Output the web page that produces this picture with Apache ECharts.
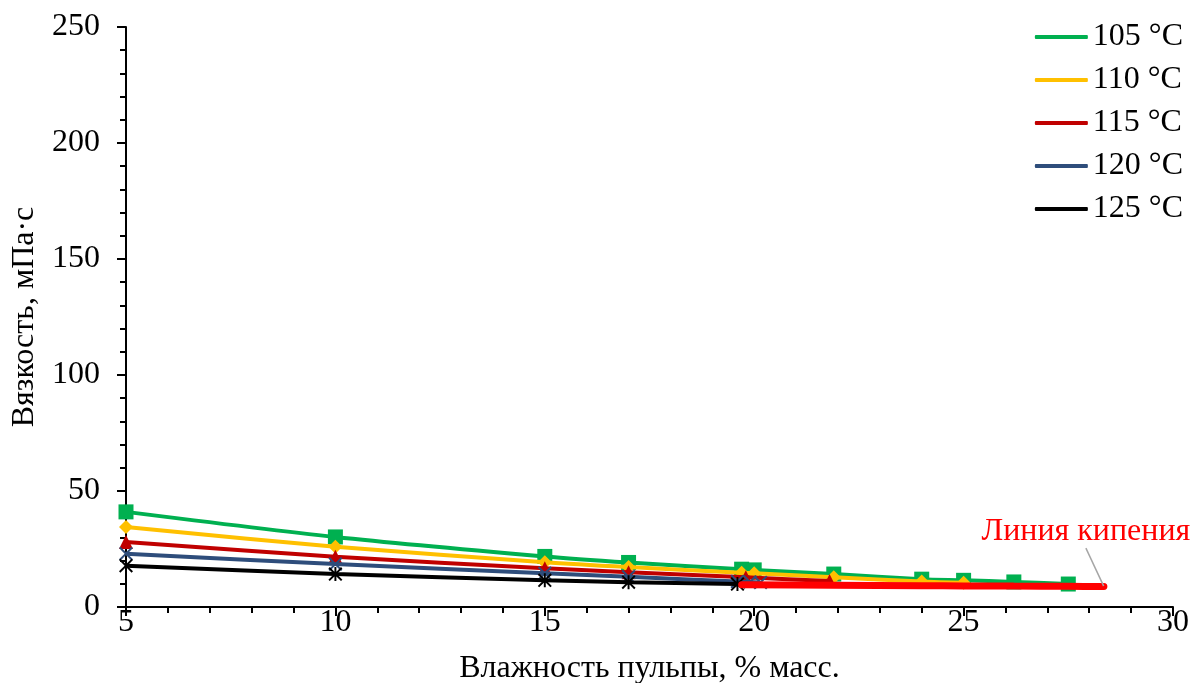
<!DOCTYPE html>
<html>
<head>
<meta charset="utf-8">
<script src="https://cdn.jsdelivr.net/npm/echarts@6/dist/echarts.min.js"></script>
<style>
  html, body { margin: 0; padding: 0; background: #fff; }
  #chart { width: 1195px; height: 683px; }
</style>
</head>
<body>
<div id="chart"></div>
<script>
// данные
var names = ['105 °C', '110 °C', '115 °C', '120 °C', '125 °C'];
var x105 = [5, 10, 15, 17, 19.7, 20, 21.9, 24, 25, 26.2, 27.5];
var y105 = [41, 30.2, 21.8, 19.2, 16.3, 16, 14.2, 12, 11.5, 10.8, 9.9];
var x110 = [5, 10, 15, 17, 19.7, 20, 21.9, 24, 25];
var y110 = [34.5, 26, 19.3, 17.2, 14.8, 14.5, 12.8, 11, 10.4];
var x115 = [5, 10, 15, 17, 19.8, 21.8];
var y115 = [28, 21.7, 16.7, 15, 12.8, 11.2];
var x120 = [5, 10, 15, 17, 19.6, 19.9, 20.15];
var y120 = [23, 18.5, 14.5, 13, 11, 10.8, 10.6];
var x125 = [5, 10, 15, 17, 19.6];
var y125 = [17.8, 14.2, 11.5, 10.7, 9.9];
// линия кипения
var xBoil = [19.7, 21.9, 24, 25, 26.2, 27.5, 28.35];
var yBoil = [9.6, 9.4, 9.2, 9.1, 9.0, 8.9, 8.8];

var colors = ['#00B050', '#FFC000', '#C00000', '#2E4D7B', '#000000'];
var symX = 'path://M1,0L5,4L9,0L10,1L6,5L10,9L9,10L5,6L1,10L0,9L4,5L0,1Z';
var symStar = 'path://M1,0L5,4L9,0L10,1L6,5L10,9L9,10L5,6L1,10L0,9L4,5L0,1Z M4.3,0L5.7,0L5.7,10L4.3,10Z';
var symbols = ['rect', 'diamond', 'triangle', symX, symStar];
var symSizes = [15, 14, 14, 14, 14];

function pairs(xs, ys) {
    var out = [];
    for (var i = 0; i < xs.length; i++) out.push([xs[i], ys[i]]);
    return out;
}

var allX = [x105, x110, x115, x120, x125];
var allY = [y105, y110, y115, y120, y125];

var font = 'Liberation Serif';
var series = [];
for (var i = 0; i < names.length; i++) {
    series.push({
        name: names[i],
        type: 'line',
        smooth: 0.3,
        data: pairs(allX[i], allY[i]),
        symbol: symbols[i],
        symbolSize: symSizes[i],
        showAllSymbol: true,
        itemStyle: { color: colors[i] },
        lineStyle: { color: colors[i], width: 4 },
        z: 2 + i
    });
}

var boilData = pairs(xBoil, yBoil);
var last = boilData.length - 1;
boilData[last] = {
    value: boilData[last],
    label: {
        show: true,
        position: 'top',
        formatter: 'Линия кипения',
        color: '#FF0000',
        fontFamily: font,
        fontSize: 32
    }
};
series.push({
    name: 'Линия кипения',
    type: 'line',
    smooth: 0.3,
    data: boilData,
    symbol: 'circle',
    symbolSize: 1,
    showAllSymbol: true,
    itemStyle: { color: '#FF0000' },
    lineStyle: { color: '#FF0000', width: 7, cap: 'round' },
    labelLayout: function (p) {
        if (p.dataIndex === last) return { dx: -18, dy: -33 };
        return {};
    },
    labelLine: { show: true, lineStyle: { color: '#a6a6a6', width: 1.5 } },
    z: 10
});

var myChart = echarts.init(document.getElementById('chart'));
var option = {
    animation: false,
    textStyle: { fontFamily: font },
    grid: { left: 126, right: 22, top: 27, bottom: 76, outerBoundsMode: 'none', containLabel: false },
    legend: {
        data: names,
        orient: 'vertical',
        right: 7,
        top: 16,
        itemGap: 11,
        itemWidth: 53,
        itemHeight: 4,
        icon: 'roundRect',
        textStyle: { fontFamily: font, fontSize: 32, color: '#000' }
    },
    xAxis: {
        type: 'value',
        min: 5,
        max: 30,
        interval: 5,
        name: 'Влажность пульпы, % масс.',
        nameLocation: 'middle',
        nameGap: 46,
        nameTextStyle: { fontFamily: font, fontSize: 32, color: '#000' },
        axisLine: { show: true, lineStyle: { color: '#000', width: 2 } },
        axisTick: { show: true, length: 9, lineStyle: { color: '#000', width: 2 } },
        minorTick: { show: true, splitNumber: 5, length: 6, lineStyle: { color: '#000', width: 2 } },
        axisLabel: { fontFamily: font, fontSize: 32, color: '#000', margin: 0 },
        splitLine: { show: false }
    },
    yAxis: {
        type: 'value',
        min: 0,
        max: 250,
        interval: 50,
        name: 'Вязкость, мПа·с',
        nameLocation: 'middle',
        nameGap: 85,
        nameTextStyle: { fontFamily: font, fontSize: 32, color: '#000' },
        axisLine: { show: true, lineStyle: { color: '#000', width: 2 } },
        axisTick: { show: true, length: 9, lineStyle: { color: '#000', width: 2 } },
        minorTick: { show: true, splitNumber: 5, length: 6, lineStyle: { color: '#000', width: 2 } },
        axisLabel: { fontFamily: font, fontSize: 32, color: '#000', margin: 26 },
        splitLine: { show: false }
    },
    series: series
};
myChart.setOption(option);
</script>
</body>
</html>
